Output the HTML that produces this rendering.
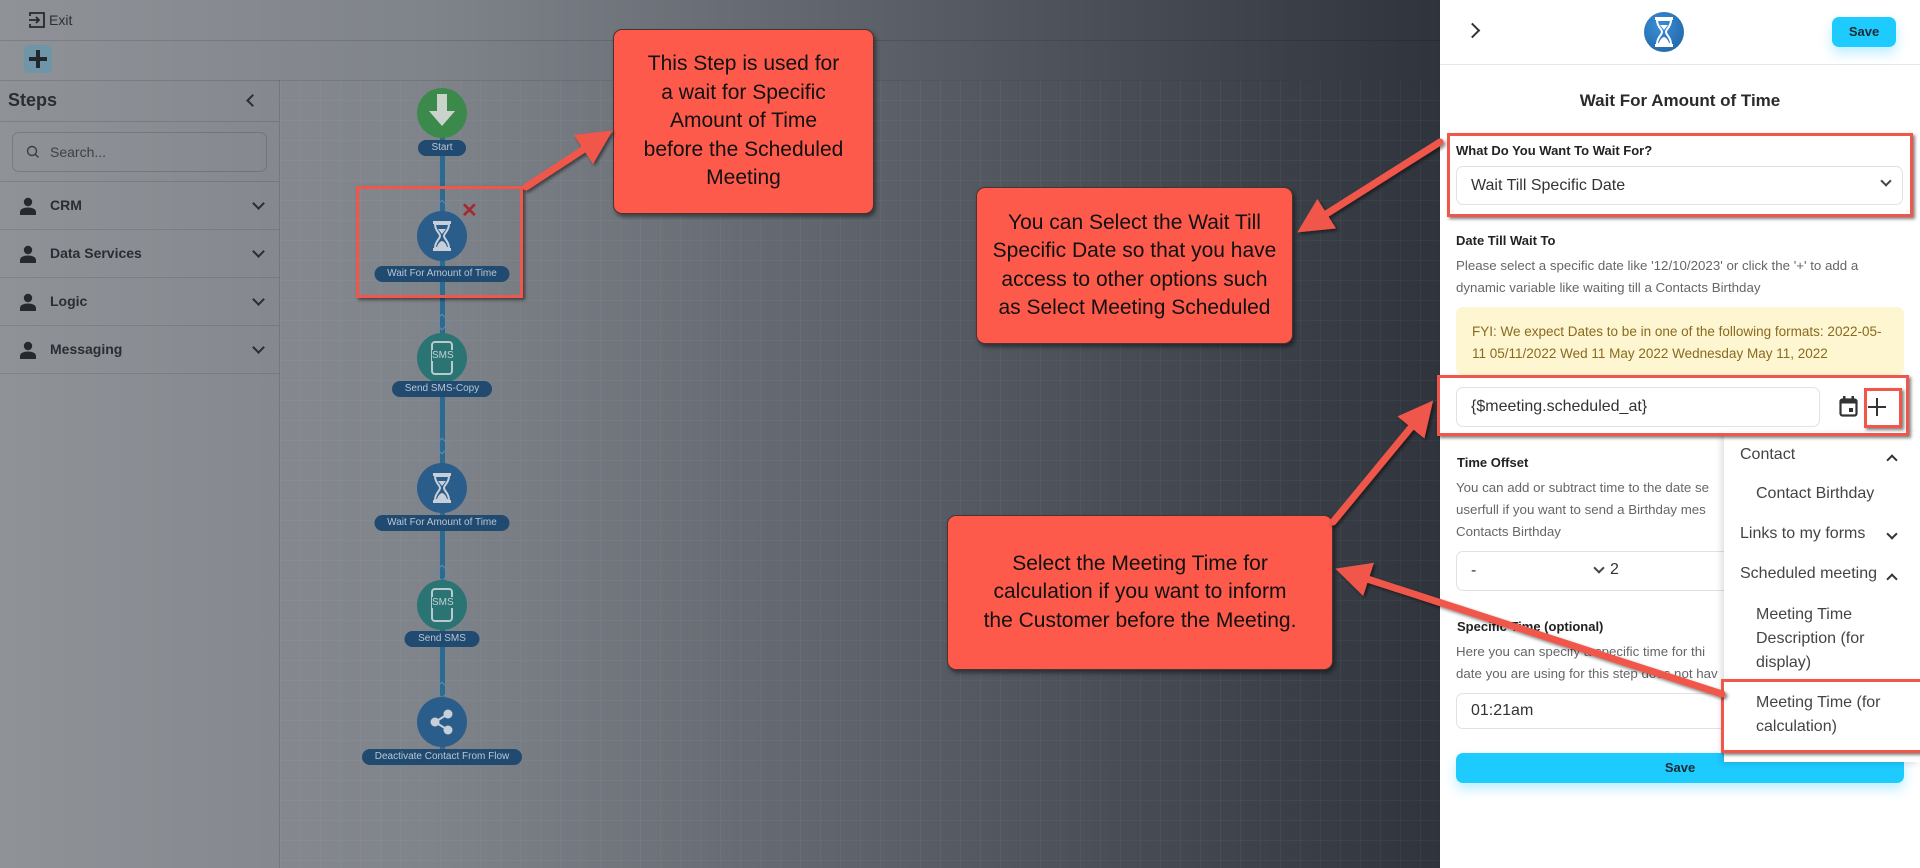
<!DOCTYPE html>
<html><head><meta charset="utf-8">
<style>
*{box-sizing:border-box;margin:0;padding:0}
body{width:1920px;height:868px;overflow:hidden;position:relative;font-family:"Liberation Sans",Arial,sans-serif;background:#fff}
.abs{position:absolute}
#left{left:0;top:0;width:1440px;height:868px;background:linear-gradient(90deg,#8f9297 0%,#7f838a 30%,#5d626a 60%,#2f333b 100%)}
#grid{left:279px;top:80px;width:1161px;height:788px;background-image:linear-gradient(rgba(255,255,255,.035) 1px,transparent 1px),linear-gradient(90deg,rgba(255,255,255,.035) 1px,transparent 1px);background-size:20px 20px;border-left:1px solid rgba(0,0,0,.12)}
.hl{height:1px;background:rgba(0,0,0,.12)}
.side{color:#2a2d33;font-weight:bold}
.row{left:0;width:279px;height:48px;border-bottom:1px solid rgba(0,0,0,.1)}
.row .ic{position:absolute;left:20px;top:15px;width:16px;height:18px}
.row .t{position:absolute;left:50px;top:15px;font-size:14px;font-weight:bold;color:#2a2d33}
.row .ch{position:absolute;left:254px;top:17px;width:9px;height:9px;border-right:2px solid #2a2d33;border-bottom:2px solid #2a2d33;transform:rotate(45deg)}
.node{position:absolute;width:50px;height:50px;border-radius:50%;left:417px}
.pill{position:absolute;height:16px;border-radius:8px;background:#214a70;color:#b9c6d4;font-size:10px;line-height:16px;text-align:center;transform:translateX(-50%);left:442px;white-space:nowrap}
.dia{position:absolute;left:436px;width:12px;height:12px;border:1.5px solid #6f8aa3;transform:rotate(45deg)}
.call{position:absolute;background:#fd5a4b;border:1.5px solid #4a3330;border-radius:9px;box-shadow:2px 3px 4px rgba(0,0,0,.45);color:#111;font-size:21px;text-align:center;line-height:28.5px;display:flex;align-items:center;justify-content:center}
#panel{left:1440px;top:0;width:480px;height:868px;background:#fff}
.p{position:absolute;color:#333}
.lbl{font-size:13px;font-weight:bold;color:#222}
.desc{font-size:13.3px;color:#666;line-height:22px}
.inp{position:absolute;border:1px solid #e2e2e2;border-radius:7px;background:#fff;font-size:16px;color:#333;padding-left:14px;display:flex;align-items:center}
.rb{position:absolute;border:3px solid #f0574a;box-shadow:2px 2px 3px rgba(0,0,0,.5)}
.dd{font-size:16px;color:#444;position:absolute}
.btn{position:absolute;background:#1ecbff;border-radius:7px;font-weight:bold;font-size:13px;color:#1a2a35;text-align:center;box-shadow:0 6px 12px rgba(30,200,255,.3)}
</style></head><body>
<svg width="0" height="0" style="position:absolute"><defs><symbol id="hg" viewBox="0 0 20 30"><rect x="1" y="0" width="18" height="3" fill="currentColor"/><rect x="1" y="27" width="18" height="3" fill="currentColor"/><path d="M3 3h14c0 7-5 9-5 12s5 5 5 12H3c0-7 5-9 5-12S3 10 3 3z" fill="none" stroke="currentColor" stroke-width="2"/><path d="M6 8h8l-4 5z M5 26c1-4 4-6 5-6s4 2 5 6z" fill="currentColor"/></symbol></defs></svg>
<div id="left" class="abs"></div>
<div id="grid" class="abs"></div>
<div class="abs hl" style="left:0;top:40px;width:1440px"></div>
<div class="abs hl" style="left:0;top:80px;width:1440px"></div>
<svg class="abs" style="left:28px;top:11px" width="18" height="18" viewBox="0 0 18 18"><path d="M2 5V2h14v14H2v-3" fill="none" stroke="#26292e" stroke-width="1.8"/><path d="M1 9h10M8 6l3 3-3 3" fill="none" stroke="#26292e" stroke-width="1.8"/></svg>
<div class="abs" style="left:49px;top:12px;font-size:14px;color:#2c2f35">Exit</div>
<div class="abs" style="left:24px;top:45px;width:28px;height:28px;border-radius:6px;background:#6e95a8"></div>
<div class="abs" style="left:29px;top:57px;width:18px;height:4px;background:#23272d"></div>
<div class="abs" style="left:36px;top:50px;width:4px;height:18px;background:#23272d"></div>
<div class="abs side" style="left:8px;top:90px;font-size:18px">Steps</div>
<div class="abs" style="left:248px;top:96px;width:9px;height:9px;border-left:2px solid #2a2d33;border-bottom:2px solid #2a2d33;transform:rotate(45deg)"></div>
<div class="abs hl" style="left:0;top:121px;width:279px"></div>
<div class="abs" style="left:12px;top:132px;width:255px;height:40px;border:1px solid rgba(0,0,0,.15);border-radius:7px"></div>
<svg class="abs" style="left:26px;top:145px" width="14" height="14"><circle cx="6" cy="6" r="4.5" fill="none" stroke="#3a3d42" stroke-width="1.4"/><path d="M9.5 9.5l3 3" stroke="#3a3d42" stroke-width="1.4"/></svg>
<div class="abs" style="left:50px;top:144px;font-size:14px;color:#3d4046">Search...</div>
<div class="abs hl" style="left:0;top:181px;width:279px"></div>
<div class="abs row" style="top:182px"><svg class="ic" viewBox="0 0 16 18"><circle cx="8" cy="5" r="4.2" fill="#26292e"/><path d="M0 18v-3c0-3 4-4.5 8-4.5s8 1.5 8 4.5v3z" fill="#26292e"/></svg><div class="t">CRM</div><div class="ch"></div></div>
<div class="abs row" style="top:230px"><svg class="ic" viewBox="0 0 16 18"><circle cx="8" cy="5" r="4.2" fill="#26292e"/><path d="M0 18v-3c0-3 4-4.5 8-4.5s8 1.5 8 4.5v3z" fill="#26292e"/></svg><div class="t">Data Services</div><div class="ch"></div></div>
<div class="abs row" style="top:278px"><svg class="ic" viewBox="0 0 16 18"><circle cx="8" cy="5" r="4.2" fill="#26292e"/><path d="M0 18v-3c0-3 4-4.5 8-4.5s8 1.5 8 4.5v3z" fill="#26292e"/></svg><div class="t">Logic</div><div class="ch"></div></div>
<div class="abs row" style="top:326px"><svg class="ic" viewBox="0 0 16 18"><circle cx="8" cy="5" r="4.2" fill="#26292e"/><path d="M0 18v-3c0-3 4-4.5 8-4.5s8 1.5 8 4.5v3z" fill="#26292e"/></svg><div class="t">Messaging</div><div class="ch"></div></div>
<div class="abs" style="left:440px;top:113px;width:5px;height:646px;background:#2a6b93"></div>
<div class="node" style="top:88px;background:#3c8a4b"></div>
<svg class="abs" style="left:428px;top:94px" width="28" height="36"><path d="M9 0h10v17h8L14 32 1 17h8z" fill="#c9d3cc"/></svg>
<div class="pill" style="top:140px;width:48px">Start</div>
<div class="dia" style="top:202px"></div>
<div class="node" style="top:211px;background:#2b5d8a"></div>
<svg class="abs" style="left:432px;top:221px;color:#c7d0da" width="20" height="30"><use href="#hg"/></svg>
<div class="abs" style="left:461px;top:198px;font-size:20px;color:#a52a2a;font-weight:bold">✕</div>
<div class="pill" style="top:266px;width:135px">Wait For Amount of Time</div>
<div class="dia" style="top:316px"></div>
<div class="node" style="top:333px;background:#2a7473"></div>
<div class="abs" style="left:431px;top:341px;width:22px;height:34px;border:2px solid #b9c9cc;border-radius:4px"></div>
<div class="abs" style="left:432px;top:350px;font-size:10px;color:#c2d0d2;background:#2a7473">SMS</div>
<div class="pill" style="top:381px;width:100px">Send SMS-Copy</div>
<div class="dia" style="top:440px"></div>
<div class="node" style="top:463px;background:#2b5d8a"></div>
<svg class="abs" style="left:432px;top:473px;color:#c7d0da" width="20" height="30"><use href="#hg"/></svg>
<div class="pill" style="top:515px;width:135px">Wait For Amount of Time</div>
<div class="dia" style="top:567px"></div>
<div class="node" style="top:580px;background:#2a7473"></div>
<div class="abs" style="left:431px;top:588px;width:22px;height:34px;border:2px solid #b9c9cc;border-radius:4px"></div>
<div class="abs" style="left:432px;top:597px;font-size:10px;color:#c2d0d2;background:#2a7473">SMS</div>
<div class="pill" style="top:631px;width:75px">Send SMS</div>
<div class="dia" style="top:684px"></div>
<div class="node" style="top:697px;background:#2b5d8a"></div>
<svg class="abs" style="left:428px;top:708px" width="28" height="28"><circle cx="20" cy="6" r="4.5" fill="#c7d0da"/><circle cx="7" cy="14" r="4.5" fill="#c7d0da"/><circle cx="20" cy="22" r="4.5" fill="#c7d0da"/><path d="M7 14L20 6M7 14l13 8" stroke="#c7d0da" stroke-width="2"/></svg>
<div class="pill" style="top:749px;width:160px">Deactivate Contact From Flow</div>
<div class="rb" style="left:356px;top:186px;width:167px;height:112px"></div>
<div id="panel" class="abs">
<div class="abs" style="left:27px;top:25px;width:11px;height:11px;border-right:2.5px solid #333;border-top:2.5px solid #333;transform:rotate(45deg)"></div>
<div class="abs" style="left:204px;top:12px;width:40px;height:40px;border-radius:50%;background:radial-gradient(circle at 40% 35%,#3a8fd8,#1c5f9e)"></div>
<svg class="abs" style="left:214px;top:17px;color:#fff" width="20" height="30"><use href="#hg"/></svg>
<div class="btn" style="left:392px;top:17px;width:64px;height:30px;line-height:30px">Save</div>
<div class="abs" style="left:0;top:64px;width:480px;height:1px;background:#e3e6ea"></div>
<div class="p" style="left:0;width:480px;top:91px;text-align:center;font-size:17px;font-weight:bold;color:#2a2a2a">Wait For Amount of Time</div>
<div class="p lbl" style="left:16px;top:143px">What Do You Want To Wait For?</div>
<div class="inp" style="left:16px;top:166px;width:447px;height:39px;padding-left:14px">Wait Till Specific Date</div>
<div class="abs" style="left:442px;top:177px;width:8px;height:8px;border-right:2px solid #444;border-bottom:2px solid #444;transform:rotate(45deg)"></div>
<div class="p lbl" style="left:16px;top:233px">Date Till Wait To</div>
<div class="p desc" style="left:16px;top:255px;width:450px">Please select a specific date like '12/10/2023' or click the '+' to add a dynamic variable like waiting till a Contacts Birthday</div>
<div class="abs" style="left:16px;top:307px;width:448px;height:68px;background:#fdf6d1;border-radius:7px"></div>
<div class="p" style="left:32px;top:321px;width:420px;font-size:13.5px;line-height:22px;color:#8a6a1e">FYI: We expect Dates to be in one of the following formats: 2022-05-11 05/11/2022 Wed 11 May 2022 Wednesday May 11, 2022</div>
<div class="inp" style="left:16px;top:387px;width:364px;height:40px">{$meeting.scheduled_at}</div>
<svg class="abs" style="left:399px;top:396px" width="19" height="21" viewBox="0 0 19 21"><rect x="1.5" y="3.5" width="16" height="16" rx="2" fill="none" stroke="#333" stroke-width="2.2"/><rect x="1.5" y="3.5" width="16" height="4" fill="#333"/><rect x="4" y="0" width="2.5" height="5" fill="#333"/><rect x="12.5" y="0" width="2.5" height="5" fill="#333"/><rect x="10" y="12" width="4" height="4" fill="#333"/></svg>
<div class="abs" style="left:436px;top:398px;width:2px;height:18px;background:#333"></div>
<div class="abs" style="left:428px;top:406px;width:18px;height:2px;background:#333"></div>
<div class="p lbl" style="left:17px;top:455px">Time Offset</div>
<div class="p desc" style="left:16px;top:477px;width:268px;white-space:nowrap;overflow:hidden">You can add or subtract time to the date se<br>userfull if you want to send a Birthday mes<br>Contacts Birthday</div>
<div class="inp" style="left:16px;top:551px;width:300px;height:40px">-</div>
<div class="abs" style="left:155px;top:564px;width:8px;height:8px;border-right:2px solid #444;border-bottom:2px solid #444;transform:rotate(45deg)"></div>
<div class="p" style="left:170px;top:561px;font-size:16px">2</div>
<div class="p lbl" style="left:17px;top:619px">Specific Time (optional)</div>
<div class="p desc" style="left:16px;top:641px;width:268px;white-space:nowrap;overflow:hidden">Here you can specify a specific time for thi<br>date you are using for this step does not hav</div>
<div class="inp" style="left:16px;top:693px;width:300px;height:36px">01:21am</div>
<div class="btn" style="left:16px;top:753px;width:448px;height:30px;line-height:30px">Save</div>
<div class="abs" style="left:284px;top:432px;width:196px;height:330px;background:#fff;box-shadow:-3px 2px 6px rgba(0,0,0,.12)"></div>
<div class="dd" style="left:300px;top:446px">Contact</div>
<div class="abs" style="left:448px;top:456px;width:8px;height:8px;border-left:2px solid #333;border-top:2px solid #333;transform:rotate(45deg)"></div>
<div class="dd" style="left:316px;top:485px">Contact Birthday</div>
<div class="dd" style="left:300px;top:525px">Links to my forms</div>
<div class="abs" style="left:448px;top:530px;width:8px;height:8px;border-right:2px solid #333;border-bottom:2px solid #333;transform:rotate(45deg)"></div>
<div class="dd" style="left:300px;top:565px">Scheduled meeting</div>
<div class="abs" style="left:448px;top:575px;width:8px;height:8px;border-left:2px solid #333;border-top:2px solid #333;transform:rotate(45deg)"></div>
<div class="dd" style="left:316px;top:603px;line-height:24px">Meeting Time<br>Description (for<br>display)</div>
<div class="dd" style="left:316px;top:691px;line-height:24px">Meeting Time (for<br>calculation)</div>
</div>
<div class="rb" style="left:1447px;top:133px;width:466px;height:84px"></div>
<div class="rb" style="left:1437px;top:375px;width:472px;height:61px"></div>
<div class="rb" style="left:1864px;top:388px;width:38px;height:40px"></div>
<div class="rb" style="left:1721px;top:679px;width:205px;height:74px"></div>
<div class="call" style="left:613px;top:29px;width:261px;height:185px">This Step is used for<br>a wait for Specific<br>Amount of Time<br>before the Scheduled<br>Meeting</div>
<div class="call" style="left:976px;top:187px;width:317px;height:157px">You can Select the Wait Till<br>Specific Date so that you have<br>access to other options such<br>as Select Meeting Scheduled</div>
<div class="call" style="left:947px;top:515px;width:386px;height:155px">Select the Meeting Time for<br>calculation if you want to inform<br>the Customer before the Meeting.</div>
<svg class="abs" style="left:0;top:0" width="1920" height="868">
<defs>
<marker id="ah" markerWidth="5" markerHeight="5" refX="2.5" refY="2.5" orient="auto" markerUnits="strokeWidth"><path d="M0,0 L5,2.5 L0,5 z" fill="#f0574a"/></marker>
<filter id="sh"><feDropShadow dx="2" dy="2" stdDeviation="1.5" flood-color="#000" flood-opacity=".5"/></filter>
</defs>
<g stroke="#f0574a" stroke-width="7" stroke-linecap="round" fill="none" filter="url(#sh)">
<line x1="526" y1="187" x2="598" y2="140" marker-end="url(#ah)"/>
<line x1="1440" y1="142" x2="1312" y2="223" marker-end="url(#ah)"/>
<line x1="1333" y1="522" x2="1422" y2="414" marker-end="url(#ah)"/>
<line x1="1722" y1="694" x2="1352" y2="574" marker-end="url(#ah)"/>
</g>
</svg>
</body></html>
